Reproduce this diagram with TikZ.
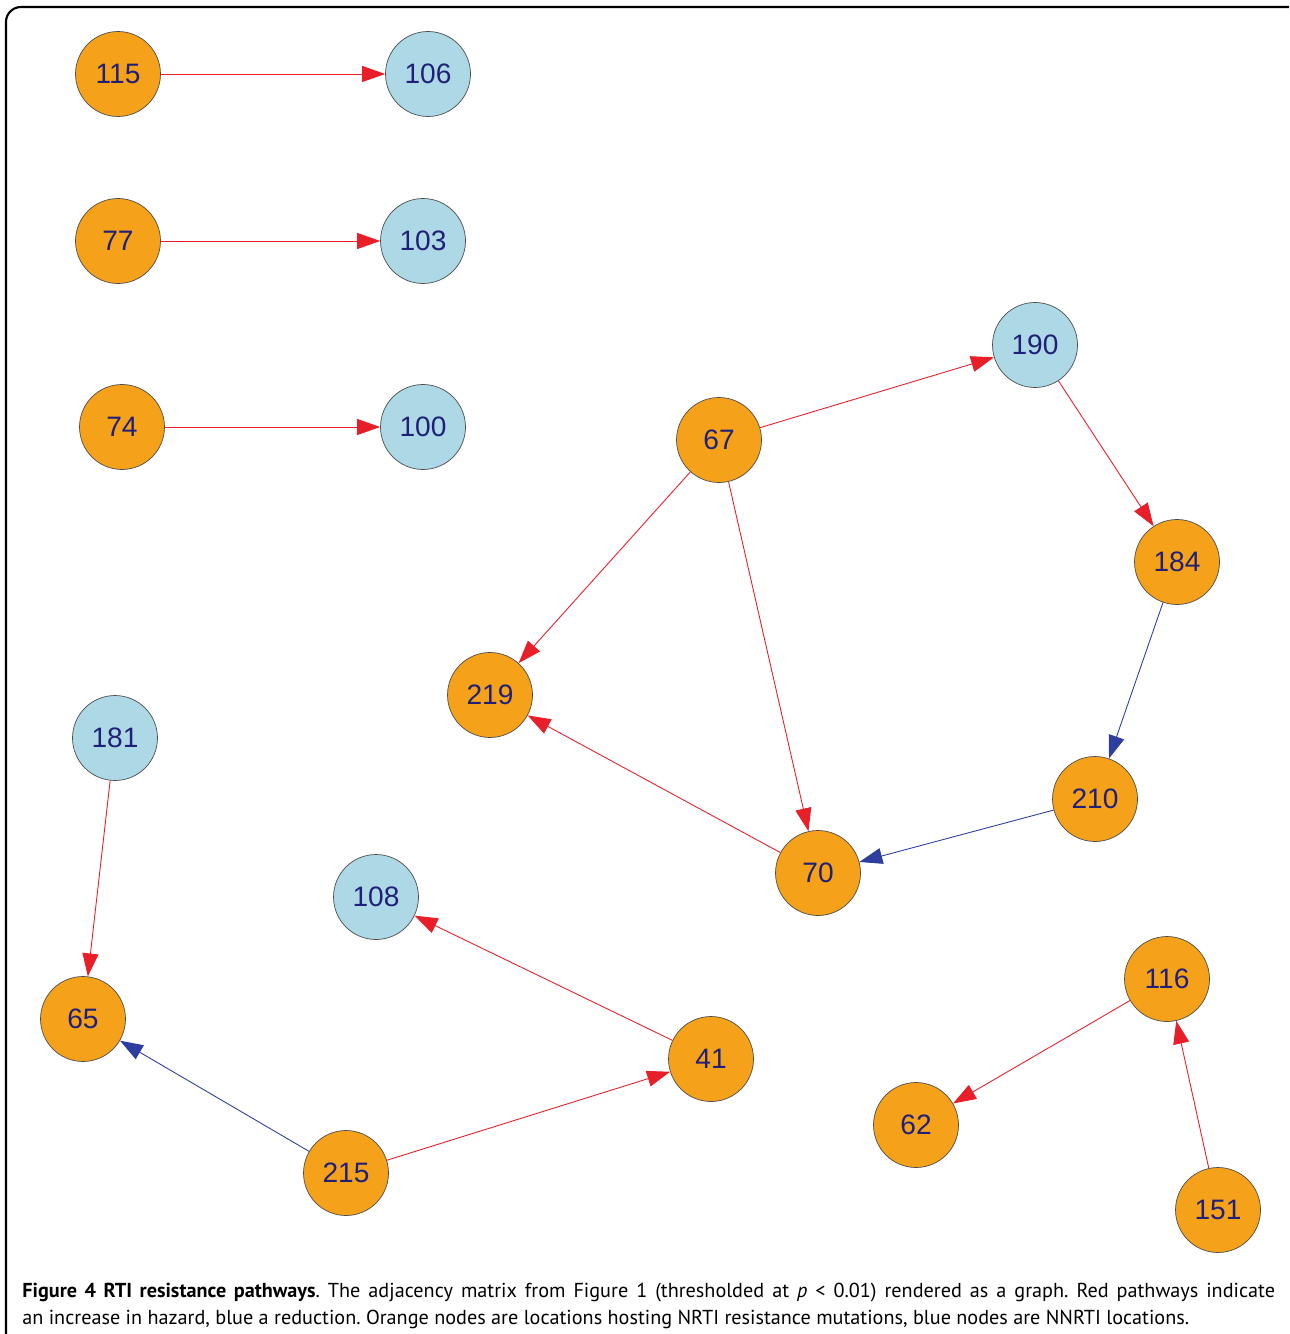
\documentclass[tikz,border=0pt]{standalone}
\usepackage{fontspec}
\setmainfont{Liberation Sans}
\newfontfamily\capfont{PT Sans}
\usetikzlibrary{arrows.meta}
\definecolor{nrtiorange}{RGB}{245,162,26}
\definecolor{nnrtiblue}{RGB}{173,216,230}
\definecolor{labelnavy}{RGB}{32,32,120}
\definecolor{uppath}{RGB}{232,30,40}
\definecolor{downpath}{RGB}{45,62,160}
\frenchspacing
\begin{document}
\begin{tikzpicture}[x=0.02cm, y=-0.02cm,
    site/.style={circle, draw=black!70, line width=0.4pt, minimum size=1.7cm, inner sep=0pt,
      text=labelnavy, font=\fontsize{16}{19}\selectfont},
    nrti/.style={site, fill=nrtiorange},
    nnrti/.style={site, fill=nnrtiblue},
    up/.style={draw=uppath, line width=0.5pt, -{Triangle[length=0.46cm,width=0.32cm]}},
    down/.style={up, draw=downpath}]
            \useasboundingbox (0,0) rectangle (1289,1334);
            \begin{scope}
                \clip (0,0) rectangle (1289,1334);
                \draw[line width=1.2pt, rounded corners=0.3cm] (6,7) rectangle (1320,1360);
            \end{scope}

            \node[nrti]  (n115) at (118,74)   {115};
            \node[nnrti] (n106) at (428,74)   {106};
            \node[nrti]  (n77)  at (118,241)  {77};
            \node[nnrti] (n103) at (423,241)  {103};
            \node[nrti]  (n74)  at (122,427)  {74};
            \node[nnrti] (n100) at (423,427)  {100};

            \node[nrti]  (n67)  at (719,440)  {67};
            \node[nnrti] (n190) at (1035,345) {190};
            \node[nrti]  (n184) at (1177,562) {184};
            \node[nrti]  (n219) at (490,695)  {219};
            \node[nrti]  (n210) at (1095,799) {210};
            \node[nrti]  (n70)  at (818,873)  {70};

            \node[nnrti] (n181) at (115,738)  {181};
            \node[nnrti] (n108) at (376,897)  {108};
            \node[nrti]  (n65)  at (83,1019)  {65};
            \node[nrti]  (n41)  at (711,1059) {41};
            \node[nrti]  (n215) at (346,1173) {215};

            \node[nrti]  (n116) at (1167,979) {116};
            \node[nrti]  (n62)  at (916,1125) {62};
            \node[nrti]  (n151) at (1218,1210) {151};

            \draw[up] (n115) -- (n106);
            \draw[up] (n77) -- (n103);
            \draw[up] (n74) -- (n100);
            \draw[up] (n67) -- (n190);
            \draw[up] (n190) -- (n184);
            \draw[down] (n184) -- (n210);
            \draw[down] (n210) -- (n70);
            \draw[up] (n67) -- (n219);
            \draw[up] (n67) -- (n70);
            \draw[up] (n70) -- (n219);
            \draw[up] (n181) -- (n65);
            \draw[up] (n41) -- (n108);
            \draw[up] (n215) -- (n41);
            \draw[down] (n215) -- (n65);
            \draw[up] (n116) -- (n62);
            \draw[up] (n151) -- (n116);

            \node[anchor=north west, text width=25.06cm, align=justify, inner sep=0pt,
              font=\capfont\fontsize{11.5}{15.4}\selectfont] (caption) at (22,1283)
              {\textbf{Figure 4 RTI resistance pathways}. The adjacency matrix from Figure 1 (thresholded at \textit{p} < 0.01) rendered as a graph. Red pathways indicate\linebreak an increase in hazard, blue a reduction. Orange nodes are locations hosting NRTI resistance mutations, blue nodes are NNRTI locations.};
        \end{tikzpicture}
\end{document}
